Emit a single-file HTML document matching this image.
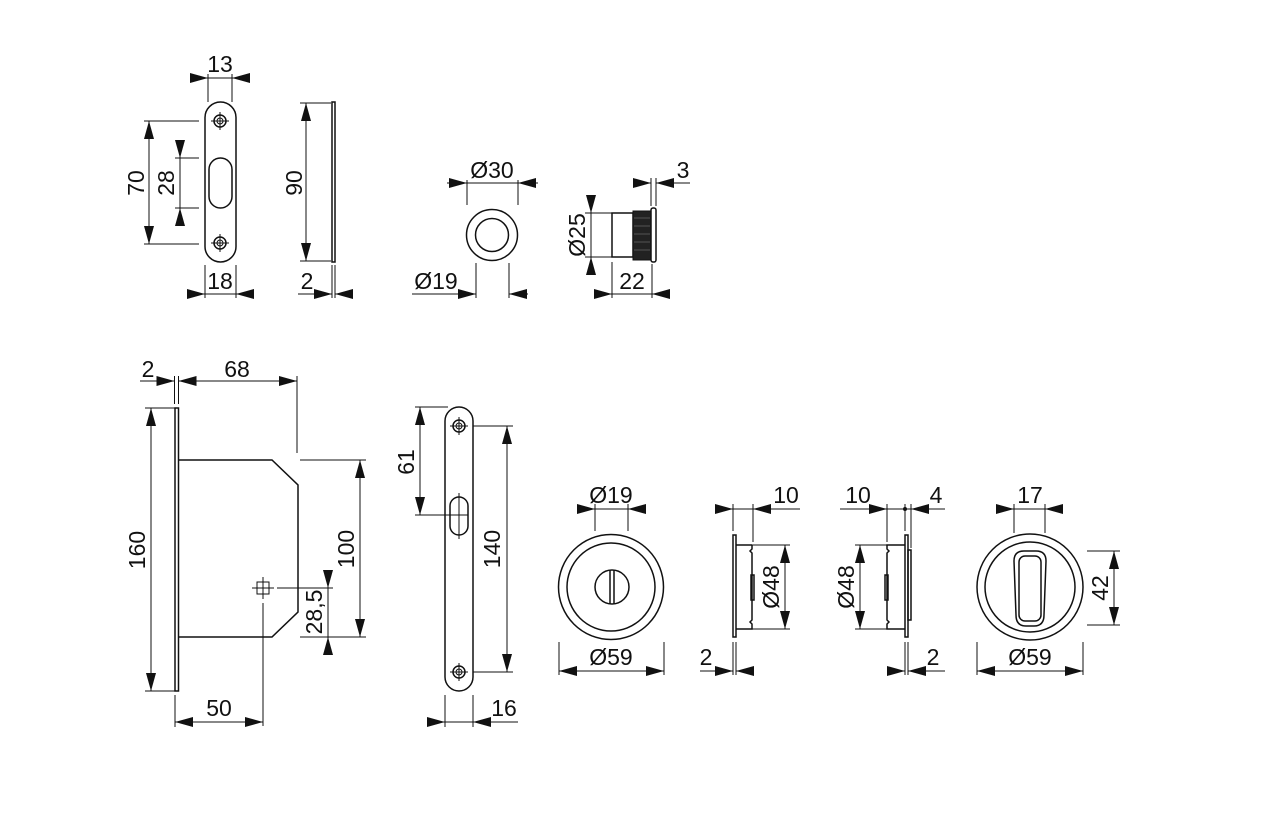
<!DOCTYPE html>
<html><head><meta charset="utf-8"><style>
html,body{margin:0;padding:0;background:#fff;}
svg{display:block;}
text{font-family:"Liberation Sans",Arial,sans-serif;font-size:23px;fill:#111;}
.g{stroke:#111;stroke-width:1.5;fill:none;}
.d{stroke:#111;stroke-width:1;fill:none;}
.a{stroke:#111;stroke-width:1;fill:none;marker-end:url(#a);}
.b{stroke:#111;stroke-width:1;fill:none;marker-start:url(#a);marker-end:url(#a);}
</style></head><body>
<svg width="1270" height="827" viewBox="0 0 1270 827" xmlns="http://www.w3.org/2000/svg">
<defs>
<marker id="a" viewBox="0 0 18 10" refX="18" refY="5" markerWidth="18" markerHeight="10" markerUnits="userSpaceOnUse" orient="auto-start-reverse"><path d="M0,0L18,5L0,10z" fill="#111"/></marker>
<g id="scr"><circle r="6" class="g"/><circle r="3" class="d"/><line x1="-9" y1="0" x2="9" y2="0" class="d"/><line x1="0" y1="-9" x2="0" y2="9" class="d"/></g>
</defs>

<!-- ===== Strike plate ===== -->
<rect x="205" y="102" width="31" height="160" rx="15.5" class="g"/>
<rect x="209" y="158" width="23" height="50" rx="11.5" class="g"/>
<use href="#scr" x="220" y="121"/>
<use href="#scr" x="220" y="243"/>
<line x1="208" y1="74" x2="208" y2="102" class="d"/><line x1="232" y1="74" x2="232" y2="102" class="d"/>
<line x1="208" y1="78" x2="232" y2="78" class="d"/>
<line x1="190" y1="78" x2="208" y2="78" class="a"/><line x1="250" y1="78" x2="232" y2="78" class="a"/>
<text x="220" y="72" text-anchor="middle">13</text>
<line x1="144" y1="121" x2="199" y2="121" class="d"/><line x1="144" y1="244" x2="199" y2="244" class="d"/>
<line x1="149" y1="121" x2="149" y2="244" class="b"/>
<text transform="translate(144,183) rotate(-90)" text-anchor="middle">70</text>
<line x1="175" y1="158" x2="199" y2="158" class="d"/><line x1="175" y1="208" x2="199" y2="208" class="d"/>
<line x1="180" y1="158" x2="180" y2="208" class="d"/>
<line x1="180" y1="140" x2="180" y2="158" class="a"/><line x1="180" y1="226" x2="180" y2="208" class="a"/>
<text transform="translate(174,183) rotate(-90)" text-anchor="middle">28</text>
<line x1="205" y1="265" x2="205" y2="298" class="d"/><line x1="236" y1="265" x2="236" y2="298" class="d"/>
<line x1="205" y1="294" x2="236" y2="294" class="d"/>
<line x1="187" y1="294" x2="205" y2="294" class="a"/><line x1="254" y1="294" x2="236" y2="294" class="a"/>
<text x="220" y="289" text-anchor="middle">18</text>
<rect x="332" y="102" width="3" height="160" class="g" stroke-width="1.1"/>
<line x1="300" y1="103" x2="331" y2="103" class="d"/><line x1="300" y1="261" x2="331" y2="261" class="d"/>
<line x1="306" y1="103" x2="306" y2="261" class="b"/>
<text transform="translate(302,183) rotate(-90)" text-anchor="middle">90</text>
<line x1="332" y1="265" x2="332" y2="298" class="d"/><line x1="335" y1="265" x2="335" y2="298" class="d"/>
<line x1="298" y1="294" x2="315" y2="294" class="d"/>
<line x1="314" y1="294" x2="332" y2="294" class="a"/><line x1="353" y1="294" x2="335" y2="294" class="a"/>
<text x="307" y="289" text-anchor="middle">2</text>

<!-- ===== Small knob ===== -->
<circle cx="492" cy="235" r="25.5" class="g"/>
<circle cx="492" cy="235" r="16.5" class="g"/>
<line x1="467" y1="180" x2="467" y2="205" class="d"/><line x1="518" y1="180" x2="518" y2="205" class="d"/>
<line x1="467" y1="183" x2="518" y2="183" class="d"/>
<line x1="447" y1="183" x2="467" y2="183" class="a"/><line x1="538" y1="183" x2="518" y2="183" class="a"/>
<text x="492" y="178" text-anchor="middle">Ø30</text>
<line x1="476" y1="263" x2="476" y2="298" class="d"/><line x1="509" y1="263" x2="509" y2="298" class="d"/>
<line x1="412" y1="294" x2="476" y2="294" class="a"/><line x1="528" y1="294" x2="509" y2="294" class="a"/>
<text x="436" y="289" text-anchor="middle">Ø19</text>
<rect x="612" y="213" width="21" height="44" class="g"/>
<rect x="633" y="211" width="18" height="49" fill="#222" stroke="#111"/>
<g stroke="#777" stroke-width="0.6"><line x1="634" y1="218" x2="650" y2="218"/><line x1="634" y1="226" x2="650" y2="226"/><line x1="634" y1="234" x2="650" y2="234"/><line x1="634" y1="242" x2="650" y2="242"/><line x1="634" y1="250" x2="650" y2="250"/></g>
<rect x="651" y="208" width="5" height="54" rx="2" class="g"/>
<line x1="585" y1="213" x2="612" y2="213" class="d"/><line x1="585" y1="257" x2="612" y2="257" class="d"/>
<line x1="591" y1="213" x2="591" y2="257" class="d"/>
<line x1="591" y1="195" x2="591" y2="213" class="a"/><line x1="591" y1="275" x2="591" y2="257" class="a"/>
<text transform="translate(585,235) rotate(-90)" text-anchor="middle">Ø25</text>
<line x1="651" y1="178" x2="651" y2="206" class="d"/><line x1="656" y1="178" x2="656" y2="206" class="d"/>
<line x1="633" y1="183" x2="651" y2="183" class="a"/><line x1="674" y1="183" x2="656" y2="183" class="a"/>
<line x1="673" y1="183" x2="690" y2="183" class="d"/>
<text x="683" y="178" text-anchor="middle">3</text>
<line x1="612" y1="262" x2="612" y2="298" class="d"/><line x1="652" y1="264" x2="652" y2="298" class="d"/>
<line x1="612" y1="294" x2="652" y2="294" class="d"/>
<line x1="594" y1="294" x2="612" y2="294" class="a"/><line x1="670" y1="294" x2="652" y2="294" class="a"/>
<text x="632" y="289" text-anchor="middle">22</text>

<!-- ===== Mortise lock ===== -->
<rect x="175" y="408" width="3.5" height="283" class="g" stroke-width="1.1"/>
<path d="M178.5,460 L272,460 L298,485 L298,612 L272,637 L178.5,637" class="g"/>
<line x1="145" y1="408" x2="175" y2="408" class="d"/><line x1="145" y1="691" x2="175" y2="691" class="d"/>
<line x1="151" y1="408" x2="151" y2="691" class="b"/>
<text transform="translate(145,550) rotate(-90)" text-anchor="middle">160</text>
<line x1="174.5" y1="376" x2="174.5" y2="404" class="d"/><line x1="178.5" y1="376" x2="178.5" y2="404" class="d"/>
<line x1="297" y1="376" x2="297" y2="453" class="d"/>
<line x1="140" y1="381" x2="157" y2="381" class="d"/>
<line x1="157" y1="381" x2="174.5" y2="381" class="a"/>
<line x1="178.5" y1="381" x2="297" y2="381" class="b"/>
<text x="148" y="377" text-anchor="middle">2</text>
<text x="237" y="377" text-anchor="middle">68</text>
<line x1="300" y1="460" x2="366" y2="460" class="d"/><line x1="300" y1="637" x2="366" y2="637" class="d"/>
<line x1="360" y1="460" x2="360" y2="637" class="b"/>
<text transform="translate(354,549) rotate(-90)" text-anchor="middle">100</text>
<rect x="257" y="582" width="12" height="12" class="d"/>
<line x1="252" y1="588" x2="274" y2="588" class="d"/><line x1="263" y1="577" x2="263" y2="599" class="d"/>
<line x1="277" y1="588" x2="333" y2="588" class="d"/>
<line x1="263" y1="603" x2="263" y2="726" class="d"/>
<line x1="328" y1="588" x2="328" y2="637" class="d"/>
<line x1="328" y1="570" x2="328" y2="588" class="a"/><line x1="328" y1="655" x2="328" y2="637" class="a"/>
<text transform="translate(322,612) rotate(-90)" text-anchor="middle">28,5</text>
<line x1="175" y1="695" x2="175" y2="727" class="d"/>
<line x1="175" y1="722" x2="263" y2="722" class="b"/>
<text x="219" y="716" text-anchor="middle">50</text>

<!-- ===== Faceplate ===== -->
<rect x="445" y="407" width="28" height="284" rx="14" class="g"/>
<rect x="450" y="497" width="18" height="38" rx="9" class="g"/>
<line x1="459" y1="493" x2="459" y2="539" class="d"/>
<use href="#scr" x="459" y="426"/>
<use href="#scr" x="459" y="672"/>
<line x1="415" y1="407" x2="448" y2="407" class="d"/><line x1="415" y1="515" x2="468" y2="515" class="d"/>
<line x1="420" y1="407" x2="420" y2="515" class="b"/>
<text transform="translate(414,462) rotate(-90)" text-anchor="middle">61</text>
<line x1="473" y1="426" x2="513" y2="426" class="d"/><line x1="473" y1="672" x2="513" y2="672" class="d"/>
<line x1="507" y1="426" x2="507" y2="672" class="b"/>
<text transform="translate(500,549) rotate(-90)" text-anchor="middle">140</text>
<line x1="445" y1="695" x2="445" y2="727" class="d"/><line x1="473" y1="695" x2="473" y2="727" class="d"/>
<line x1="445" y1="722" x2="473" y2="722" class="d"/>
<line x1="427" y1="722" x2="445" y2="722" class="a"/><line x1="491" y1="722" x2="473" y2="722" class="a"/>
<line x1="490" y1="722" x2="518" y2="722" class="d"/>
<text x="504" y="716" text-anchor="middle">16</text>

<!-- ===== Rose with turn knob ===== -->
<circle cx="611" cy="587" r="52.5" class="g"/>
<circle cx="611" cy="587" r="44" class="g"/>
<circle cx="612" cy="587" r="17" class="g"/>
<line x1="610" y1="570" x2="610" y2="604" class="g"/><line x1="614" y1="570" x2="614" y2="604" class="g"/>
<line x1="595" y1="504" x2="595" y2="531" class="d"/><line x1="628" y1="504" x2="628" y2="531" class="d"/>
<line x1="595" y1="509" x2="628" y2="509" class="d"/>
<line x1="577" y1="509" x2="595" y2="509" class="a"/><line x1="646" y1="509" x2="628" y2="509" class="a"/>
<text x="611" y="503" text-anchor="middle">Ø19</text>
<line x1="559" y1="642" x2="559" y2="675" class="d"/><line x1="664" y1="642" x2="664" y2="675" class="d"/>
<line x1="559" y1="671" x2="664" y2="671" class="b"/>
<text x="611" y="665" text-anchor="middle">Ø59</text>

<!-- ===== Side view left ===== -->
<rect x="733" y="535" width="3" height="102" class="g" stroke-width="1.1"/>
<path d="M736,545 L752,545 M752,545 L752,549 L750,551 L752,553 L752,620 L750,622 L752,624 L752,629 L736,629" class="g" stroke-width="1.1"/>
<rect x="751" y="575" width="3" height="25" class="g" stroke-width="1"/>
<line x1="752" y1="545" x2="790" y2="545" class="d"/><line x1="752" y1="629" x2="790" y2="629" class="d"/>
<line x1="785" y1="545" x2="785" y2="629" class="b"/>
<text transform="translate(779,587) rotate(-90)" text-anchor="middle">Ø48</text>
<line x1="733" y1="504" x2="733" y2="531" class="d"/><line x1="753" y1="504" x2="753" y2="542" class="d"/>
<line x1="733" y1="509" x2="753" y2="509" class="d"/>
<line x1="717" y1="509" x2="733" y2="509" class="a"/><line x1="771" y1="509" x2="753" y2="509" class="a"/>
<line x1="770" y1="509" x2="800" y2="509" class="d"/>
<text x="786" y="503" text-anchor="middle">10</text>
<line x1="733" y1="642" x2="733" y2="675" class="d"/><line x1="736" y1="642" x2="736" y2="675" class="d"/>
<line x1="700" y1="671" x2="716" y2="671" class="d"/>
<line x1="715" y1="671" x2="733" y2="671" class="a"/><line x1="754" y1="671" x2="736" y2="671" class="a"/>
<text x="706" y="665" text-anchor="middle">2</text>

<!-- ===== Side view right ===== -->
<rect x="905" y="535" width="3" height="102" class="g" stroke-width="1.1"/>
<rect x="908" y="550" width="3" height="70" class="g" stroke-width="1"/>
<path d="M905,545 L887,545 L887,549 L889,551 L887,553 L887,620 L889,622 L887,624 L887,629 L905,629" class="g" stroke-width="1.1"/>
<rect x="885" y="575" width="3" height="25" class="g" stroke-width="1"/>
<line x1="855" y1="545" x2="887" y2="545" class="d"/><line x1="855" y1="629" x2="887" y2="629" class="d"/>
<line x1="860" y1="545" x2="860" y2="629" class="b"/>
<text transform="translate(854,587) rotate(-90)" text-anchor="middle">Ø48</text>
<line x1="887" y1="504" x2="887" y2="542" class="d"/><line x1="905" y1="504" x2="905" y2="531" class="d"/><line x1="911" y1="504" x2="911" y2="548" class="d"/>
<line x1="840" y1="509" x2="887" y2="509" class="a"/>
<line x1="887" y1="509" x2="911" y2="509" class="d"/>
<circle cx="905" cy="509" r="2" fill="#111"/>
<line x1="929" y1="509" x2="911" y2="509" class="a"/>
<line x1="928" y1="509" x2="945" y2="509" class="d"/>
<text x="858" y="503" text-anchor="middle">10</text>
<text x="936" y="503" text-anchor="middle">4</text>
<line x1="905" y1="642" x2="905" y2="675" class="d"/><line x1="908" y1="642" x2="908" y2="675" class="d"/>
<line x1="887" y1="671" x2="905" y2="671" class="a"/><line x1="926" y1="671" x2="908" y2="671" class="a"/>
<line x1="925" y1="671" x2="945" y2="671" class="d"/>
<text x="933" y="665" text-anchor="middle">2</text>

<!-- ===== Rose with handle slot ===== -->
<circle cx="1030" cy="587" r="53" class="g"/>
<circle cx="1030" cy="587" r="45" class="g"/>
<path d="M1024,551 L1036,551 Q1046,551 1046,561 L1044,615 Q1044,626 1034,626 L1026,626 Q1016,626 1016,615 L1014,561 Q1014,551 1024,551 Z" class="g"/>
<rect x="1019" y="556" width="22" height="65" rx="6" class="g"/>
<line x1="1014" y1="504" x2="1014" y2="533" class="d"/><line x1="1045" y1="504" x2="1045" y2="533" class="d"/>
<line x1="1014" y1="509" x2="1045" y2="509" class="d"/>
<line x1="996" y1="509" x2="1014" y2="509" class="a"/><line x1="1063" y1="509" x2="1045" y2="509" class="a"/>
<text x="1030" y="503" text-anchor="middle">17</text>
<line x1="1087" y1="551" x2="1120" y2="551" class="d"/><line x1="1087" y1="625" x2="1120" y2="625" class="d"/>
<line x1="1114" y1="551" x2="1114" y2="625" class="b"/>
<text transform="translate(1108,588) rotate(-90)" text-anchor="middle">42</text>
<line x1="977" y1="642" x2="977" y2="675" class="d"/><line x1="1083" y1="642" x2="1083" y2="675" class="d"/>
<line x1="977" y1="671" x2="1083" y2="671" class="b"/>
<text x="1030" y="665" text-anchor="middle">Ø59</text>
</svg>
</body></html>
